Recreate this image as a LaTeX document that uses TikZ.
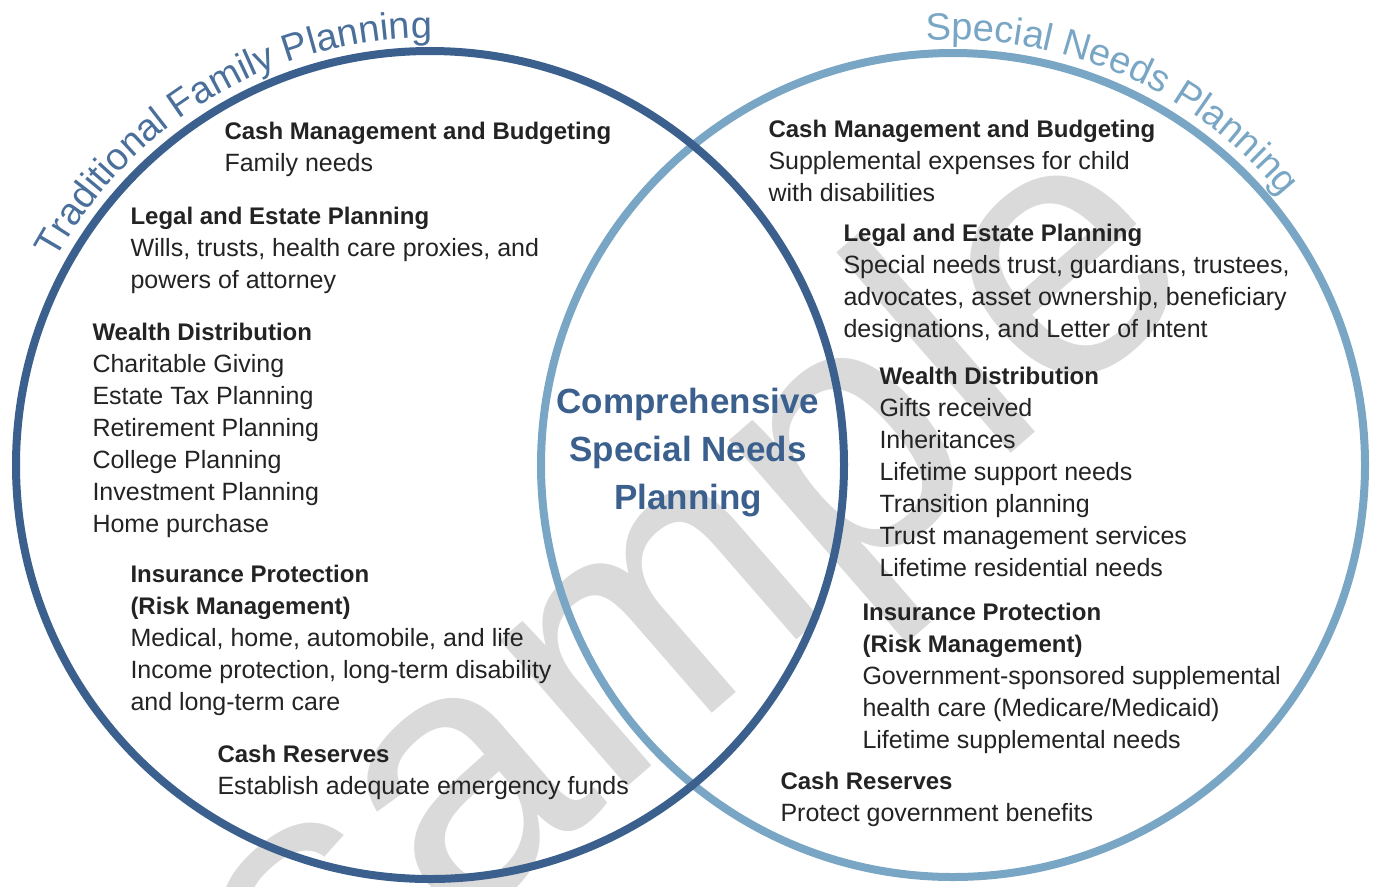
\documentclass[tikz,border=0pt]{standalone}
\usepackage{fontspec}
\setmainfont{Liberation Sans}
\usetikzlibrary{decorations.text}

\definecolor{darkblue}{RGB}{59,96,141}
\definecolor{lightblue}{RGB}{121,166,196}
\definecolor{titleblue}{RGB}{74,111,155}
\definecolor{bodygray}{RGB}{35,35,35}
\definecolor{markgray}{RGB}{218,218,218}
\newcommand{\hd}[1]{{\fontsize{18}{24}\selectfont\bfseries #1}}
\newcommand{\titlefont}{\fontsize{28.5}{30}\selectfont}

\tikzset{every picture/.style={line width=0.75pt}}
\tikzset{
  block/.style={anchor=north west, inner sep=0pt, align=left, text=bodygray, font=\fontsize{18.75}{24}\selectfont},
  ring/.style={line width=6pt},
}

\begin{document}
\begin{tikzpicture}[x=0.75pt,y=0.75pt,yscale=-1,xscale=1]
\clip (0,0) rectangle (1373,886);

% Watermark
\node (mark) [rotate=41, inner sep=0pt, text=markgray, font=\fontsize{275}{275}\selectfont] at (700,598) {sample};

%Shape: Circle [id:right]
\draw [ring, color=lightblue] (953,465) circle [radius=412];
%Shape: Circle [id:left]
\draw [ring, color=darkblue] (430,465) circle [radius=414];

% Curved titles
\begin{scope}[shift={(430,465)}, yscale=-1]
\path [decorate, decoration={text along path, text align=center, text={|\titlefont\color{titleblue}|Traditional Family Planning}}] (165.5:427) arc [start angle=165.5, end angle=75.5, radius=427];
\end{scope}
\begin{scope}[shift={(953,465)}, yscale=-1]
\path [decorate, decoration={text along path, text align=center, text={|\titlefont\color{lightblue}|Special Needs Planning}}] (111.4:425) arc [start angle=111.4, end angle=21.4, radius=425];
\end{scope}

% Text Node
\draw (688,453) node (core) [align=center, inner sep=0pt, text=darkblue, font=\fontsize{26.25}{36}\selectfont\bfseries] {Comprehensive\\Special Needs\\Planning};

% Left circle
\draw (224,122) node (lcash) [block] {\hd{Cash Management and Budgeting}\\Family needs};
\draw (130,207) node (llegal) [block] {\hd{Legal and Estate Planning}\\Wills, trusts, health care proxies, and\\powers of attorney};
\draw (92,323) node (lwealth) [block] {\hd{Wealth Distribution}\\Charitable Giving\\Estate Tax Planning\\Retirement Planning\\College Planning\\Investment Planning\\Home purchase};
\draw (130,565) node (linsur) [block] {\hd{Insurance Protection}\\\hd{(Risk Management)}\\Medical, home, automobile, and life\\Income protection, long-term disability\\and long-term care};
\draw (217,745) node (lres) [block] {\hd{Cash Reserves}\\Establish adequate emergency funds};

% Right circle
\draw (768,120) node (rcash) [block] {\hd{Cash Management and Budgeting}\\Supplemental expenses for child\\with disabilities};
\draw (843,224) node (rlegal) [block] {\hd{Legal and Estate Planning}\\Special needs trust, guardians, trustees,\\advocates, asset ownership, beneficiary\\designations, and Letter of Intent};
\draw (879,367) node (rwealth) [block] {\hd{Wealth Distribution}\\Gifts received\\Inheritances\\Lifetime support needs\\Transition planning\\Trust management services\\Lifetime residential needs};
\draw (862,603) node (rinsur) [block] {\hd{Insurance Protection}\\\hd{(Risk Management)}\\Government-sponsored supplemental\\health care (Medicare/Medicaid)\\Lifetime supplemental needs};
\draw (780,772) node (rres) [block] {\hd{Cash Reserves}\\Protect government benefits};

\end{tikzpicture}
\end{document}
